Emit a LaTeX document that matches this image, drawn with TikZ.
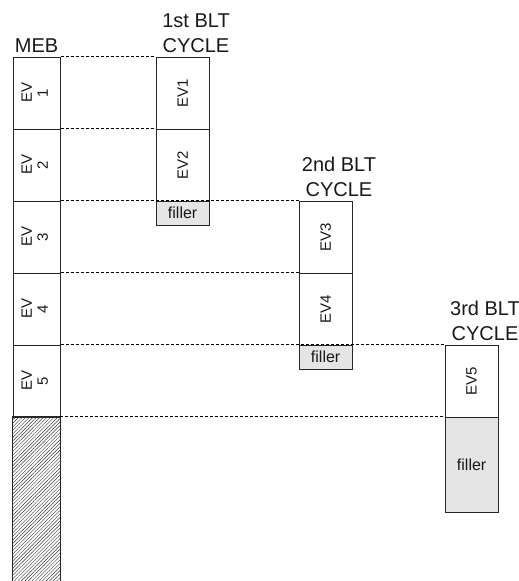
\documentclass[tikz,border=0pt]{standalone}
\usepackage{fontspec}
\setmainfont{Liberation Sans}
\usepackage{graphicx}
\usetikzlibrary{patterns.meta}
\newcommand{\twoline}[2]{\rotatebox{90}{\begin{tabular}{@{}c@{}}#1\\#2\end{tabular}}}
\begin{document}
\begin{tikzpicture}[x=1pt,y=-1pt,
  cell/.style={draw=black!85, line width=0.8pt, fill=white, inner sep=0pt, anchor=north west,
    minimum width=53.5pt, minimum height=72pt, text=black!90, font=\fontsize{15}{16}\selectfont},
  mebcell/.style={cell, minimum width=47.5pt},
  fillercell/.style={cell, fill=black!10, font=\fontsize{16}{18}\selectfont},
  hatchcell/.style={draw=black!85, line width=0.8pt, inner sep=0pt, anchor=north west,
    minimum width=47.5pt, minimum height=175pt,
    pattern={Lines[angle=45, distance=2.5pt, line width=0.45pt]}, pattern color=black!80},
  lbl/.style={inner sep=0pt, anchor=south, align=center, text=black!90, font=\fontsize{20}{25}\selectfont},
  guide/.style={line width=0.7pt, dash pattern=on 3pt off 2pt}]
\useasboundingbox (0,0) rectangle (519,581);
% MEB column
\node[mebcell] (m1) at (12.5,56.5)  {\twoline{EV}{1}};
\node[mebcell] (m2) at (12.5,128.5) {\twoline{EV}{2}};
\node[mebcell] (m3) at (12.5,200.5) {\twoline{EV}{3}};
\node[mebcell] (m4) at (12.5,272.5) {\twoline{EV}{4}};
\node[mebcell] (m5) at (12.5,344.5) {\twoline{EV}{5}};
\node[hatchcell] (m6) at (12.5,416.5) {};
% 1st BLT cycle
\node[cell] (a1) at (155.5,56.5)  {\rotatebox{90}{EV1}};
\node[cell] (a2) at (155.5,128.5) {\rotatebox{90}{EV2}};
\node[fillercell, minimum height=24pt] (a3) at (155.5,200.5) {filler};
% 2nd BLT cycle
\node[cell] (b1) at (298.5,200.5) {\rotatebox{90}{EV3}};
\node[cell] (b2) at (298.5,272.5) {\rotatebox{90}{EV4}};
\node[fillercell, minimum height=24.5pt] (b3) at (298.5,344.5) {filler};
% 3rd BLT cycle
\node[cell] (c1) at (444.5,344.5) {\rotatebox{90}{EV5}};
\node[fillercell, minimum height=95.5pt] (c2) at (444.5,416.5) {filler};
% labels
\node[lbl] (lm) at ([yshift=4pt]m1.north) {MEB};
\node[lbl] (l1) at ([xshift=40.5pt,yshift=4pt]a1.north west) {1st BLT\\CYCLE};
\node[lbl] (l2) at ([xshift=40.5pt,yshift=4pt]b1.north west) {2nd BLT\\CYCLE};
\node[lbl] (l3) at ([xshift=40.5pt,yshift=4pt]c1.north west) {3rd BLT\\CYCLE};
% guide lines
\draw[guide] (m1.north east) -- (a1.north west);
\draw[guide] (m2.north east) -- (a2.north west);
\draw[guide] (m3.north east) -- (b1.north west);
\draw[guide] (m4.north east) -- (b2.north west);
\draw[guide] (m5.north east) -- (c1.north west);
\draw[guide] (m6.north east) -- (c2.north west);
\end{tikzpicture}
\end{document}
